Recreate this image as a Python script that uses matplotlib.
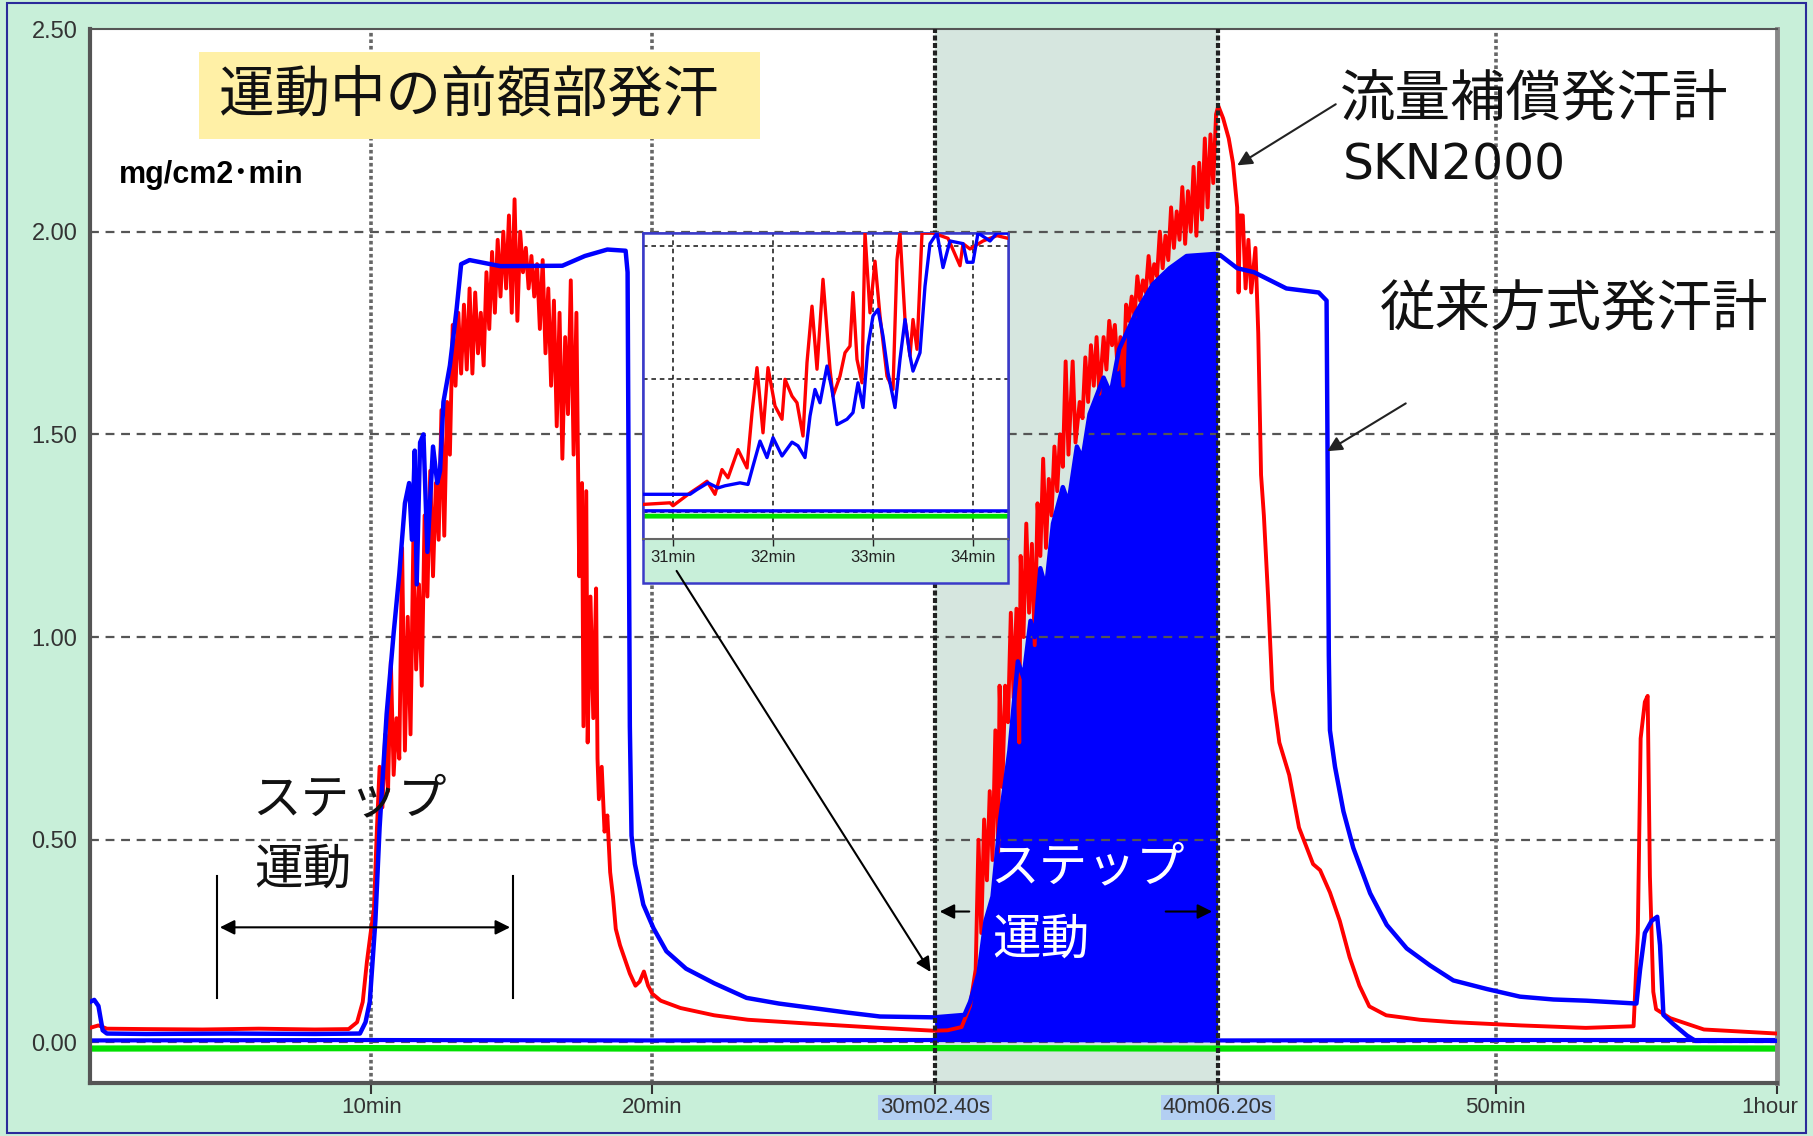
import numpy as np
import matplotlib.pyplot as plt
from matplotlib.patches import Rectangle, FancyArrowPatch
from matplotlib.transforms import ScaledTranslation

W, H = 1813, 1136

# time in minutes, sweat rate in mg/cm2·min
red_t = [0.0, 0.3, 0.6, 2.0, 4.0, 6.0, 8.0, 9.2, 9.5, 9.7, 9.85, 10.0, 10.1, 10.2, 10.3, 10.4,
         10.5, 10.6, 10.7, 10.8, 10.9, 11.0, 11.1, 11.2, 11.3, 11.4, 11.5, 11.6, 11.7, 11.8, 11.9,
         12.0, 12.1, 12.2, 12.3, 12.4, 12.5, 12.6, 12.7, 12.8, 12.9, 13.0, 13.1, 13.2, 13.3, 13.4,
         13.5, 13.6, 13.7, 13.8, 13.9, 14.0, 14.1, 14.2, 14.3, 14.4, 14.5, 14.6, 14.7, 14.8, 14.9,
         15.0, 15.1, 15.2, 15.3, 15.4, 15.5, 15.6, 15.7, 15.8, 15.9, 16.0, 16.1, 16.2, 16.3, 16.4,
         16.5, 16.6, 16.7, 16.8, 16.9, 17.0, 17.1, 17.2, 17.3, 17.4, 17.5, 17.55, 17.65, 17.7, 17.8,
         17.9, 18.0, 18.05, 18.1, 18.2, 18.3, 18.4, 18.5, 18.6, 18.7, 18.85, 19.0, 19.2, 19.4, 19.55,
         19.7, 19.85, 20.0, 20.3, 21.0, 22.2, 23.4, 25.7, 28.1, 30.0, 30.5, 31.0, 31.3, 31.5, 31.6,
         31.7, 31.8, 31.9, 32.0, 32.1, 32.2, 32.3, 32.35, 32.45, 32.55, 32.65, 32.75, 32.85, 32.95,
         33.05, 33.1, 33.2, 33.3, 33.4, 33.5, 33.6, 33.7, 33.8, 33.9, 34.0, 34.1, 34.2, 34.3, 34.4,
         34.5, 34.6, 34.7, 34.8, 34.95, 35.05, 35.2, 35.3, 35.4, 35.5, 35.6, 35.7, 35.8, 35.9, 36.05,
         36.15, 36.25, 36.35, 36.45, 36.55, 36.65, 36.75, 36.85, 36.95, 37.05, 37.15, 37.25, 37.35,
         37.45, 37.55, 37.65, 37.75, 37.85, 37.95, 38.05, 38.15, 38.25, 38.35, 38.45, 38.55, 38.65,
         38.75, 38.85, 38.95, 39.05, 39.15, 39.25, 39.35, 39.45, 39.55, 39.65, 39.75, 39.85, 39.95,
         40.05, 40.13, 40.3, 40.5, 40.65, 40.8, 40.85, 40.9, 41.0, 41.1, 41.2, 41.3,
         41.45, 41.55, 41.65, 41.75, 41.9, 42.05, 42.3, 42.65, 43.0, 43.5, 43.75, 44.1, 44.45, 44.8,
         45.15, 45.5, 46.1, 47.3, 48.5, 50.9, 53.2, 54.9, 55.05, 55.15, 55.3, 55.4, 55.48, 55.6,
         55.7, 56.2, 56.8, 57.4, 60.0]
red_v = [0.036, 0.042, 0.034, 0.033, 0.032, 0.034, 0.032, 0.033, 0.05, 0.10, 0.20, 0.28, 0.33, 0.52, 0.68, 0.58,
         0.76, 0.62, 0.94, 0.66, 0.80, 0.70, 1.22, 0.72, 1.05, 0.76, 1.24, 0.92, 1.13, 0.88, 1.30,
         1.10, 1.41, 1.15, 1.38, 1.24, 1.56, 1.25, 1.58, 1.45, 1.77, 1.62, 1.80, 1.65, 1.82, 1.66,
         1.86, 1.65, 1.85, 1.70, 1.80, 1.67, 1.90, 1.76, 1.95, 1.80, 1.98, 1.84, 2.00, 1.86, 2.04,
         1.80, 2.08, 1.78, 2.00, 1.90, 1.96, 1.86, 1.94, 1.84, 1.92, 1.76, 1.93, 1.70, 1.86, 1.62,
         1.83, 1.52, 1.80, 1.44, 1.74, 1.55, 1.88, 1.45, 1.80, 1.15, 1.38, 0.78, 1.36, 0.74, 1.10,
         0.80, 1.12, 0.70, 0.60, 0.68, 0.52, 0.56, 0.42, 0.36, 0.28, 0.24, 0.21, 0.17, 0.14, 0.15,
         0.175, 0.14, 0.12, 0.103, 0.085, 0.067, 0.056, 0.046, 0.036, 0.029, 0.030, 0.038, 0.09, 0.18, 0.50,
         0.27, 0.55, 0.40, 0.62, 0.45, 0.77, 0.47, 0.88, 0.63, 0.88, 0.79, 1.06, 0.85, 1.07,
         0.74, 1.20, 1.00, 1.28, 1.06, 1.23, 0.98, 1.33, 1.20, 1.44, 1.22, 1.39, 1.30, 1.47, 1.36,
         1.50, 1.42, 1.68, 1.45, 1.68, 1.48, 1.58, 1.54, 1.69, 1.58, 1.72, 1.62, 1.74, 1.60, 1.74,
         1.66, 1.78, 1.72, 1.77, 1.66, 1.74, 1.62, 1.82, 1.78, 1.84, 1.79, 1.89, 1.83,
         1.88, 1.85, 1.94, 1.87, 1.92, 1.89, 2.00, 1.91, 1.99, 1.93, 2.06, 1.96, 2.05,
         1.98, 2.11, 1.97, 2.10, 2.00, 2.16, 1.99, 2.17, 2.03, 2.23, 2.06, 2.24, 2.12,
         2.29, 2.31, 2.28, 2.23, 2.17, 2.06, 1.85, 2.04, 2.04, 1.86, 1.98, 1.85,
         1.96, 1.75, 1.40, 1.30, 1.10, 0.87, 0.74, 0.66, 0.53, 0.44, 0.425, 0.37, 0.30, 0.21,
         0.14, 0.089, 0.067, 0.056, 0.05, 0.042, 0.036, 0.04, 0.27, 0.75, 0.84, 0.855, 0.41, 0.125,
         0.082, 0.06, 0.046, 0.032, 0.022]

blue_t = [0.0, 0.15, 0.3, 0.45, 0.6, 2.0, 5.0, 8.0, 9.6, 9.8, 9.95, 10.15, 10.3, 10.55, 10.8, 11.0,
          11.2, 11.35, 11.45, 11.55, 11.62, 11.74, 11.86, 12.0, 12.2, 12.35, 12.45, 12.57, 12.8,
          13.04, 13.2, 13.5, 14.6, 16.8, 17.6, 18.4, 19.05, 19.12, 19.2, 19.26, 19.38, 19.68, 20.04,
          20.5, 21.2, 22.2, 23.35, 24.5, 25.7, 26.9, 28.1, 30.0, 30.04, 31.1, 31.3, 31.6, 31.85,
          32.1, 32.37, 32.7, 33.0, 33.2, 33.45, 33.6, 33.8, 34.0, 34.25, 34.6, 34.8, 35.1, 35.3,
          35.55, 36.05, 36.3, 36.6, 37.2, 37.8, 38.4, 39.0, 40.0, 40.103, 40.2, 40.8, 41.4, 42.55,
          43.7, 43.98, 44.02, 44.06, 44.1, 44.28, 44.58, 44.93, 45.53, 46.12, 46.83, 47.66, 48.49,
          49.67, 50.86, 52.05, 53.23, 55.0, 55.13, 55.3, 55.54, 55.74, 55.84, 55.96, 56.3, 56.8,
          57.1, 60.0]
blue_v = [0.10, 0.105, 0.09, 0.03, 0.022, 0.021, 0.022, 0.021, 0.022, 0.05, 0.10, 0.30, 0.53, 0.81, 1.01, 1.155,
          1.33, 1.38, 1.24, 1.46, 1.13, 1.48, 1.50, 1.21, 1.47, 1.38, 1.41, 1.58, 1.67,
          1.81, 1.92, 1.93, 1.915, 1.916, 1.94, 1.956, 1.953, 1.90, 0.78, 0.51, 0.44, 0.34, 0.282,
          0.225, 0.182, 0.146, 0.11, 0.096, 0.085, 0.074, 0.064, 0.062, 0.062, 0.068, 0.10, 0.17, 0.30,
          0.36, 0.55, 0.72, 0.94, 0.90, 1.04, 1.00, 1.17, 1.12, 1.28, 1.37, 1.33, 1.47, 1.44,
          1.55, 1.64, 1.60, 1.71, 1.80, 1.87, 1.91, 1.94, 1.945, 1.944, 1.942, 1.91, 1.90, 1.86,
          1.85, 1.83, 1.40, 0.955, 0.77, 0.68, 0.57, 0.48, 0.368, 0.29, 0.232, 0.19, 0.153,
          0.132, 0.113, 0.106, 0.103, 0.096, 0.18, 0.27, 0.30, 0.31, 0.24, 0.068, 0.046, 0.017,
          0.004, 0.004]

base_t = [0, 10, 20, 30, 40, 50, 60]
base_blue = [0.005, 0.006, 0.005, 0.006, 0.005, 0.006, 0.006]
base_green = [-0.015, -0.014, -0.015, -0.014, -0.015, -0.014, -0.015]

# magnified window, 30.7 - 34.35 min
zoom_red_t = [30.70, 30.97, 31.0, 31.17, 31.27, 31.34, 31.42, 31.49, 31.55, 31.65, 31.74, 31.79,
              31.84, 31.9, 31.95, 32.02, 32.09, 32.12, 32.19, 32.24, 32.3, 32.34, 32.39, 32.44,
              32.5, 32.57, 32.6, 32.67, 32.72, 32.77, 32.8, 32.84, 32.89, 32.92, 32.97, 33.02,
              33.07, 33.14, 33.2, 33.24, 33.27, 33.32, 33.37, 33.4, 33.44, 33.49, 33.6, 33.75,
              33.87, 33.9, 33.97, 34.1, 34.24, 34.35]
zoom_red_v = [0.03, 0.036, 0.025, 0.073, 0.098, 0.117, 0.068, 0.161, 0.130, 0.236, 0.167, 0.374,
              0.544, 0.299, 0.544, 0.40, 0.35, 0.50, 0.437, 0.412, 0.287, 0.563, 0.775, 0.538,
              0.876, 0.538, 0.437, 0.512, 0.60, 0.625, 0.826, 0.575, 0.487, 1.05, 0.75, 0.944,
              0.738, 0.512, 0.462, 0.95, 1.05, 0.725, 0.588, 0.725, 0.613, 1.05, 1.05, 1.03,
              0.927, 1.01, 0.99, 1.02, 1.04, 1.03]
zoom_blue_t = [30.70, 31.17, 31.24, 31.35, 31.45, 31.52, 31.67, 31.75, 31.8, 31.87, 31.94, 32.0,
               32.09, 32.19, 32.25, 32.32, 32.37, 32.42, 32.47, 32.54, 32.59, 32.64, 32.74, 32.8,
               32.85, 32.9, 32.95, 33.0, 33.05, 33.1, 33.15, 33.22, 33.27, 33.32, 33.37, 33.4,
               33.47, 33.52, 33.57, 33.64, 33.7, 33.77, 33.9, 33.94, 34.0, 34.05, 34.17, 34.24,
               34.35]
zoom_blue_v = [0.068, 0.068, 0.086, 0.111, 0.092, 0.10, 0.111, 0.105, 0.174, 0.268, 0.206, 0.281,
               0.212, 0.264, 0.25, 0.206, 0.362, 0.462, 0.412, 0.55, 0.462, 0.33, 0.35, 0.375,
               0.487, 0.394, 0.625, 0.738, 0.763, 0.663, 0.525, 0.394, 0.575, 0.725, 0.588, 0.531,
               0.60, 0.85, 1.01, 1.05, 0.92, 1.02, 1.01, 0.94, 0.94, 1.05, 1.02, 1.05, 1.05]

step_start, step_end = 30.04, 40.103
xtick_pos = [10, 20, step_start, step_end, 50, 60]
xtick_lab = ['10min', '20min', '30m02.40s', '40m06.20s', '50min', '1hour']
ytick_pos = [0.0, 0.5, 1.0, 1.5, 2.0, 2.5]
ytick_lab = ['0.00', '0.50', '1.00', '1.50', '2.00', '2.50']
zoom_tick_pos = [31, 32, 33, 34]
zoom_tick_lab = ['31min', '32min', '33min', '34min']

RED, BLUE, GREEN = '#ff0000', '#0000ff', '#00e000'
MINT = '#c8efd9'
JP = ['Noto Sans CJK JP', 'DejaVu Sans']
TICKF = ['Liberation Sans', 'DejaVu Sans']


def fx(x):
    return x / W


def fy(y):
    return 1 - y / H


fig = plt.figure(figsize=(W / 100, H / 100), dpi=100, facecolor=MINT)
fig.add_artist(Rectangle((fx(7), fy(1133)), fx(1806 - 7), (1133 - 3) / H, transform=fig.transFigure,
                         fill=False, edgecolor='#2a2a9a', lw=1.5))

ax = fig.add_axes([fx(90), fy(1083), (1777 - 90) / W, (1083 - 29) / H])
ax.set_zorder(0)
ax.set_xlim(0, 60)
ax.set_ylim(-0.1, 2.5)
ax.set_facecolor('white')

ax.axvspan(step_start, step_end, color='#d6e6df', zorder=0.2)

bt = np.array(blue_t)
bv = np.array(blue_v)
ax.fill_between(bt, 0.006, bv, where=(bt >= step_start) & (bt <= step_end), color=BLUE, lw=0, zorder=1)

for yv in [0.0, 0.5, 1.0, 1.5, 2.0]:
    ax.axhline(yv, color='#555555', lw=1.6, ls=(0, (4, 3)), zorder=1.5)
for xv in [10, 20, 50]:
    ax.axvline(xv, color='#666666', lw=2.6, ls=(0, (1, 0.8)), zorder=1.5)

ax.plot(base_t, base_green, color=GREEN, lw=4.5, zorder=2)
ax.plot(base_t, base_blue, color=BLUE, lw=3, zorder=2.2)
ax.plot(red_t, red_v, color=RED, lw=2.8, zorder=3)
ax.plot(blue_t, blue_v, color=BLUE, lw=3.2, zorder=3.2)

for xv in [step_start, step_end]:
    ax.axvline(xv, color='#222222', lw=3, ls=(0, (1.2, 0.6)), zorder=4)

ax.set_xticks(xtick_pos)
ax.set_xticklabels(xtick_lab, family=TICKF, fontsize=16, color='#333333')
ax.set_yticks(ytick_pos)
ax.set_yticklabels(ytick_lab, family=TICKF, fontsize=17, color='#333333')
ax.tick_params(axis='x', length=8, width=1.5, color='#333333', pad=2)
ax.tick_params(axis='y', length=0, pad=9)
xlabs = ax.get_xticklabels()
for lab in xlabs[2:4]:
    lab.set_bbox(dict(facecolor='#b3cff2', edgecolor='none', pad=1.5))
# keep the last label inside the figure edge
xlabs[-1].set_transform(xlabs[-1].get_transform() + ScaledTranslation(-0.07, 0, fig.dpi_scale_trans))

for side, col, lw in [('left', '#555555', 3), ('bottom', '#555555', 3),
                      ('top', '#555555', 1.5), ('right', '#888888', 3.5)]:
    ax.spines[side].set_color(col)
    ax.spines[side].set_linewidth(lw)

# step exercise markers, first bout
ax.annotate('', xy=(4.52, 0.284), xytext=(15.04, 0.284),
            arrowprops=dict(arrowstyle='<|-|>', color='black', lw=1.5, mutation_scale=22), zorder=5)
for xv in [4.52, 15.04]:
    ax.plot([xv, xv], [0.11, 0.41], color='black', lw=1.5, zorder=5)

# second bout markers
ax.annotate('', xy=(30.12, 0.323), xytext=(31.37, 0.323),
            arrowprops=dict(arrowstyle='-|>', color='black', lw=1.5, mutation_scale=22), zorder=5)
ax.annotate('', xy=(40.01, 0.323), xytext=(38.16, 0.323),
            arrowprops=dict(arrowstyle='-|>', color='black', lw=1.5, mutation_scale=22), zorder=5)

# pointers to the two sensor traces
ax.annotate('', xy=(40.72, 2.16), xytext=(44.39, 2.318),
            arrowprops=dict(arrowstyle='-|>', color='#222222', lw=1.5, mutation_scale=22), zorder=5)
ax.annotate('', xy=(43.92, 1.455), xytext=(46.88, 1.58),
            arrowprops=dict(arrowstyle='-|>', color='#222222', lw=1.5, mutation_scale=22), zorder=5)

# texts
fig.add_artist(Rectangle((fx(199), fy(139)), fx(760 - 199), (139 - 52) / H, transform=fig.transFigure,
                         facecolor='#fff0a6', edgecolor='none', zorder=3))
fig.text(fx(219), fy(96), '運動中の前額部発汗', family=JP, fontsize=40, va='center', ha='left',
         color='#111111', zorder=4)
fig.text(fx(119), fy(175), 'mg/cm2･min', family=['Liberation Sans', 'Noto Sans CJK JP'],
         fontsize=22, fontweight='bold', va='center', ha='left', zorder=4)
fig.text(fx(1340), fy(100), '流量補償発汗計', family=JP, fontsize=40, va='center', ha='left',
         color='#111111', zorder=4)
fig.text(fx(1343), fy(165), 'SKN2000', family=['DejaVu Sans'], fontsize=35, va='center', ha='left',
         color='#111111', zorder=4)
fig.text(fx(1380), fy(310), '従来方式発汗計', family=JP, fontsize=40, va='center', ha='left',
         color='#111111', zorder=4)
fig.text(fx(252), fy(800), 'ステップ', family=JP, fontsize=35, va='center', ha='left',
         color='#111111', zorder=4)
fig.text(fx(254), fy(870), '運動', family=JP, fontsize=35, va='center', ha='left',
         color='#111111', zorder=4)
fig.text(fx(990), fy(868), 'ステップ', family=JP, fontsize=35, va='center', ha='left',
         color='white', zorder=4)
fig.text(fx(992), fy(940), '運動', family=JP, fontsize=35, va='center', ha='left',
         color='white', zorder=4)

# magnified inset with its own time strip
strip = Rectangle((fx(643), fy(583)), fx(1008 - 643), (583 - 233) / H, transform=fig.transFigure,
                  facecolor=MINT, edgecolor='#3a3ac8', lw=1.8, zorder=0.5)
fig.add_artist(strip)

ins = fig.add_axes([fx(643), fy(539), (1008 - 643) / W, (539 - 233) / H])
ins.set_zorder(1)
ins.set_xlim(30.70, 34.35)
ins.set_ylim(-0.1, 1.05)
ins.set_facecolor('white')
for yv in [0.0, 0.5, 1.0]:
    ins.axhline(yv, color='#111111', lw=1.1, ls=(0, (3, 2.5)), zorder=1)
for xv in zoom_tick_pos:
    ins.axvline(xv, color='#111111', lw=1.1, ls=(0, (3, 2.5)), zorder=1)
ins.plot(base_t, base_green, color=GREEN, lw=3.5, zorder=2)
ins.plot(base_t, base_blue, color=BLUE, lw=2.4, zorder=2.2)
ins.plot(zoom_red_t, zoom_red_v, color=RED, lw=2.4, zorder=3)
ins.plot(zoom_blue_t, zoom_blue_v, color=BLUE, lw=2.4, zorder=3.2)
ins.set_yticks([])
ins.set_xticks(zoom_tick_pos)
ins.set_xticklabels(zoom_tick_lab, family=TICKF, fontsize=12, color='#222222')
ins.tick_params(axis='x', length=5, width=1, color='#222222', pad=3)
for side in ['top', 'left', 'right']:
    ins.spines[side].set_color('#3a3ac8')
    ins.spines[side].set_linewidth(1.8)
ins.spines['bottom'].set_color('#666666')
ins.spines['bottom'].set_linewidth(1.5)

# pointer from the inset down to the start of the second bout
fig.add_artist(FancyArrowPatch((20.81, 1.169), (29.95, 0.168), transform=ax.transData,
                               arrowstyle='-|>', color='black', lw=1.5, mutation_scale=22, zorder=5))

fig.savefig('out.png', dpi=100, facecolor=MINT)
